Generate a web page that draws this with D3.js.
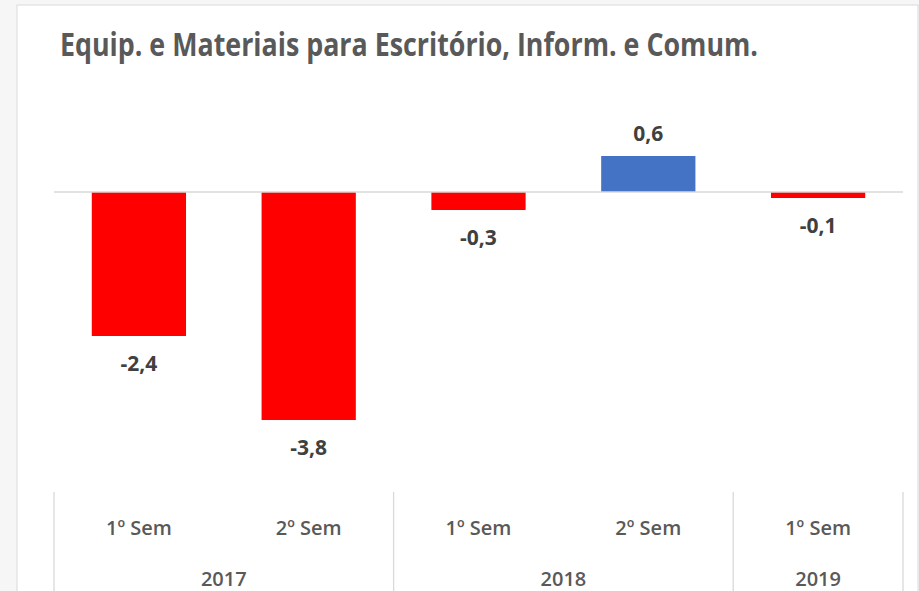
<!DOCTYPE html>
<html><head><meta charset="utf-8">
<script src="https://cdn.jsdelivr.net/npm/d3@7"></script>
<style>html,body{margin:0;padding:0;background:#f6f6f6;}svg{display:block;}</style>
</head><body>
<svg id="c" width="919" height="591"></svg>
<script>
const title = "Equip. e Materiais para Escritório, Inform. e Comum.";
const semesters = ["1º Sem", "2º Sem", "1º Sem", "2º Sem", "1º Sem"];
const years = ["2017", "2017", "2018", "2018", "2019"];
const values = [-2.4, -3.8, -0.3, 0.6, -0.1];
const valueLabels = ["-2,4", "-3,8", "-0,3", "0,6", "-0,1"];

const svg = d3.select("#c");
// panel
svg.append("rect").attr("x", 17).attr("y", 5).attr("width", 918 - 17).attr("height", 600)
  .attr("fill", "#fff").attr("stroke", "#d9d9d9").attr("stroke-width", 1);

svg.append("text").attr("x", 60).attr("y", 56)
  .attr("font-family", "'Open Sans', sans-serif").attr("font-weight", 700)
  .attr("font-size", 32).attr("fill", "#595959")
  .attr("textLength", 698).attr("lengthAdjust", "spacingAndGlyphs")
  .text(title);

const idx = values.map((d, i) => i);
const x = d3.scaleBand().domain(idx).range([54, 903]).paddingInner(0.445).paddingOuter(0.2225);
const y = d3.scaleLinear().domain([-4, 1]).range([432, 132]);
const step = x.step();
const x0 = 54;

// bars
svg.selectAll("rect.bar").data(values).join("rect").attr("class", "bar")
  .attr("x", (d, i) => x(i)).attr("width", x.bandwidth())
  .attr("y", d => y(Math.max(0, d))).attr("height", d => Math.abs(y(d) - y(0)))
  .attr("fill", d => d >= 0 ? "#4472c4" : "#ff0000");

// zero line
svg.append("line").attr("x1", 54).attr("x2", 903).attr("y1", y(0)).attr("y2", y(0))
  .attr("stroke", "#d9d9d9").attr("stroke-width", 1.3);

// value labels
svg.selectAll("text.val").data(values).join("text").attr("class", "val")
  .attr("x", (d, i) => x(i) + x.bandwidth() / 2)
  .attr("y", d => d >= 0 ? y(d) - 22 : y(d) + 28)
  .attr("dy", "0.35em").attr("text-anchor", "middle")
  .attr("font-family", "'Open Sans', sans-serif").attr("font-weight", 700)
  .attr("font-size", 21).attr("fill", "#404040")
  .text((d, i) => valueLabels[i]);

// semester labels
svg.selectAll("text.sem").data(semesters).join("text").attr("class", "sem")
  .attr("x", (d, i) => x(i) + x.bandwidth() / 2).attr("y", 528)
  .attr("dy", "0.35em").attr("text-anchor", "middle")
  .attr("font-family", "'Open Sans', sans-serif").attr("font-weight", 600)
  .attr("font-size", 20).attr("fill", "#595959")
  .text(d => d);

// year groups
const groups = [];
years.forEach((yr, i) => {
  const g = groups.find(g => g.year === yr);
  if (g) g.end = i; else groups.push({ year: yr, start: i, end: i });
});
const bounds = [x0];
groups.forEach(g => bounds.push(x0 + (g.end + 1) * step));
svg.selectAll("line.div").data(bounds).join("line").attr("class", "div")
  .attr("x1", d => d).attr("x2", d => d).attr("y1", 492).attr("y2", 591)
  .attr("stroke", "#d9d9d9").attr("stroke-width", 1.3);
svg.selectAll("text.yr").data(groups).join("text").attr("class", "yr")
  .attr("x", g => x0 + (g.start + (g.end + 1)) / 2 * step).attr("y", 579)
  .attr("dy", "0.35em").attr("text-anchor", "middle")
  .attr("font-family", "'Open Sans', sans-serif").attr("font-weight", 600)
  .attr("font-size", 20).attr("fill", "#595959")
  .text(g => g.year);
</script>
</body></html>
